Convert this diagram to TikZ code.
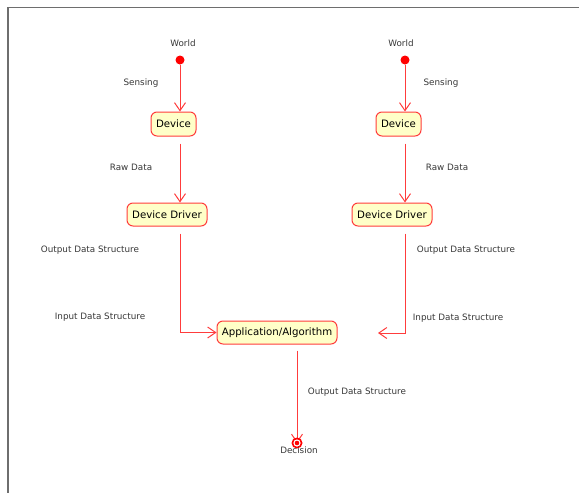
\documentclass[tikz,border=0pt]{standalone}
\usepackage{fontspec}
\setmainfont{DejaVu Sans}
\usetikzlibrary{arrows.meta}
\definecolor{lc}{RGB}{255,60,60}
\definecolor{bf}{RGB}{255,255,200}
\definecolor{lbl}{RGB}{55,55,55}
\definecolor{frm}{RGB}{110,110,110}
\tikzset{
  statebox/.style={draw=lc, fill=bf, rounded corners=6pt, line width=1pt, inner sep=0pt,
    font=\fontsize{10.2}{11}\selectfont, text=black, anchor=center},
  lab/.style={font=\fontsize{8.8}{10}\selectfont, text=lbl, inner sep=0pt, yshift=-1.2pt},
  flow/.style={draw=lc, line width=1pt, -{Straight Barb[length=8pt,width=11pt]}},
  startdot/.style={circle, fill=red, inner sep=0pt, minimum size=9pt}
}
\begin{document}
\begin{tikzpicture}[x=1pt,y=-1pt]
\useasboundingbox (0,0) rectangle (579,493);
% frame
\draw[frm, line width=1.3pt] (8,493) -- (8,7.5) -- (579,7.5);

% left column
\node[lab] (worldL) at (183,42) {World};
\node[startdot] (dotL) at (180,60) {};
\node[lab] (sensL) at (141,82) {Sensing};
\node[statebox, minimum width=45pt, minimum height=24pt] (devL) at (173.5,124) {Device};
\node[lab] (rawL) at (131,166) {Raw Data};
\node[statebox, minimum width=80pt, minimum height=23pt] (drvL) at (167,214.5) {Device Driver};
\node[lab] (outL) at (90,249) {Output Data Structure};
\node[lab] (inL) at (100,316) {Input Data Structure};

% right column
\node[lab] (worldR) at (401,42) {World};
\node[startdot] (dotR) at (405,60) {};
\node[lab] (sensR) at (441,82) {Sensing};
\node[statebox, minimum width=45pt, minimum height=24pt] (devR) at (398.5,124) {Device};
\node[lab] (rawR) at (447,166) {Raw Data};
\node[statebox, minimum width=80pt, minimum height=23pt] (drvR) at (392,214.5) {Device Driver};
\node[lab] (outR) at (466,249) {Output Data Structure};
\node[lab] (inR) at (458,317) {Input Data Structure};

% application
\node[statebox, minimum width=120pt, minimum height=23pt] (app) at (277,332.5) {Application/Algorithm};
\coordinate (appR) at (378,333);
\node[lab] (outB) at (357,391) {Output Data Structure};

% connectors left
\draw[flow] (dotL) -- (dotL |- devL.north);
\draw[flow] ([yshift=-7pt]dotL |- devL.south) -- (dotL |- drvL.north);
\draw[flow] ([yshift=-7pt]dotL |- drvL.south) |- (app.west);
% connectors right
\draw[flow] (dotR) -- (dotR |- devR.north);
\draw[flow] ([yshift=-7pt]dotR |- devR.south) -- (dotR |- drvR.north);
\draw[flow] ([yshift=-7pt]dotR |- drvR.south) |- (appR);

% decision
\coordinate (decC) at (297,443);
\draw[flow] ([yshift=-6pt]decC |- app.south) -- (decC);
\fill[red] (decC) circle (5.5pt);
\fill[white] (decC) circle (3.6pt);
\fill[red] (decC) circle (2.3pt);
\node[lab] (dec) at (299,449) {Decision};
\end{tikzpicture}
\end{document}
